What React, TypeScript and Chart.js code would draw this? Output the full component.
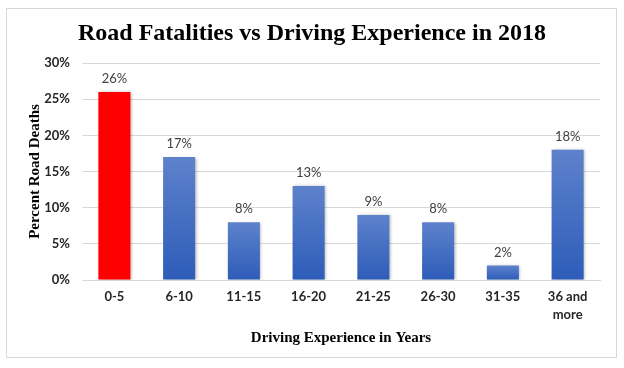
import React, { useEffect, useRef } from "react";
import { Chart, registerables } from "chart.js";

Chart.register(...registerables);

const categories: (string | string[])[] = ["0-5", "6-10", "11-15", "16-20", "21-25", "26-30", "31-35", ["36 and", "more"]];
const percentDeaths = [26, 17, 8, 13, 9, 8, 2, 18];
const highlightIndex = 0;
const yTicks = [0, 5, 10, 15, 20, 25, 30];

const titleText = "Road Fatalities vs Driving Experience in 2018";
const yTitle = "Percent Road Deaths";
const xTitle = "Driving Experience in Years";

const SANS = "Lato, 'Noto Sans', sans-serif";
const SERIF = "'Liberation Serif', 'DejaVu Serif', serif";

export default function App() {
  const ref = useRef<HTMLCanvasElement | null>(null);

  useEffect(() => {
    if (!ref.current) return;

    const labelPlugin = {
      id: "valueLabels",
      afterDatasetsDraw(chart: any) {
        const ctx = chart.ctx;
        const meta = chart.getDatasetMeta(0);
        ctx.save();
        ctx.font = `13px ${SANS}`;
        ctx.fillStyle = "#404040";
        ctx.textAlign = "center";
        ctx.textBaseline = "middle";
        meta.data.forEach((bar: any, i: number) => {
          ctx.fillText(percentDeaths[i] + "%", bar.x, bar.y - 13);
        });
        ctx.restore();
      },
    };

    const titlePlugin = {
      id: "centeredTitle",
      afterDraw(chart: any) {
        const ctx = chart.ctx;
        ctx.save();
        ctx.font = `bold 24px ${SERIF}`;
        ctx.fillStyle = "#000000";
        ctx.textAlign = "center";
        ctx.textBaseline = "middle";
        ctx.fillText(titleText, chart.width / 2, 34);
        ctx.restore();
      },
    };

    const shadowPlugin = {
      id: "barShadow",
      beforeDatasetDraw(chart: any) {
        const ctx = chart.ctx;
        ctx.save();
        ctx.shadowColor = "rgba(0,0,0,0.28)";
        ctx.shadowBlur = 3;
        ctx.shadowOffsetX = 1.5;
        ctx.shadowOffsetY = 0.5;
      },
      afterDatasetDraw(chart: any) {
        chart.ctx.restore();
      },
    };

    const chart = new Chart(ref.current, {
      type: "bar",
      data: {
        labels: categories,
        datasets: [
          {
            data: percentDeaths,
            backgroundColor: (c: any) => {
              if (c.dataIndex === highlightIndex) return "#FF0000";
              const chartObj = c.chart;
              const ys = chartObj.scales && chartObj.scales.y;
              if (!ys || c.raw == null) return "#4472C4";
              const top = ys.getPixelForValue(c.raw);
              const bottom = ys.getPixelForValue(0);
              const g = chartObj.ctx.createLinearGradient(0, top, 0, bottom);
              g.addColorStop(0, "#5E82CC");
              g.addColorStop(1, "#2D5CB8");
              return g;
            },
            borderWidth: 0,
            barPercentage: 0.99,
            categoryPercentage: 0.5,
          },
        ],
      },
      options: {
        animation: false,
        responsive: false,
        maintainAspectRatio: false,
        layout: { padding: { left: 0, right: 24, top: 63, bottom: 0 } },
        plugins: {
          legend: { display: false },
          tooltip: { enabled: false },
          title: { display: false },
        },
        scales: {
          x: {
            afterFit: (s: any) => {
              s.height = 88;
            },
            grid: { display: false, drawTicks: false },
            border: { display: true, color: "#D9D9D9" },
            ticks: {
              color: "#262626",
              font: { family: SANS, size: 13, weight: "bold", lineHeight: 1.35 },
              padding: 8,
              maxRotation: 0,
              autoSkip: false,
            },
            title: {
              display: true,
              text: xTitle,
              color: "#000000",
              font: { family: SERIF, size: 15, weight: "bold" },
              padding: { top: 0, bottom: 21 },
            },
          },
          y: {
            min: 0,
            max: 30,
            afterFit: (s: any) => {
              s.width = 82;
            },
            afterBuildTicks: (s: any) => {
              s.ticks = yTicks.map((v) => ({ value: v }));
            },
            grid: { color: "#D9D9D9", drawTicks: false },
            border: { display: false },
            ticks: {
              color: "#262626",
              font: { family: SANS, size: 13, weight: "bold" },
              padding: 12,
              callback: (v: any) => v + "%",
            },
            title: {
              display: true,
              text: yTitle,
              color: "#000000",
              font: { family: SERIF, size: 15, weight: "bold" },
              padding: { top: 26, bottom: 0 },
            },
          },
        },
      },
      plugins: [shadowPlugin, labelPlugin, titlePlugin],
    });

    return () => chart.destroy();
  }, []);

  return (
    <div style={{ position: "fixed", left: 0, top: 0, width: 624, height: 368, background: "#fff" }}>
      <div
        style={{
          position: "absolute",
          left: 6,
          top: 8,
          width: 611,
          height: 350,
          border: "1px solid #D9D9D9",
          boxSizing: "border-box",
        }}
      />
      <canvas ref={ref} width={624} height={368} style={{ position: "absolute", left: 0, top: 0 }} />
    </div>
  );
}
